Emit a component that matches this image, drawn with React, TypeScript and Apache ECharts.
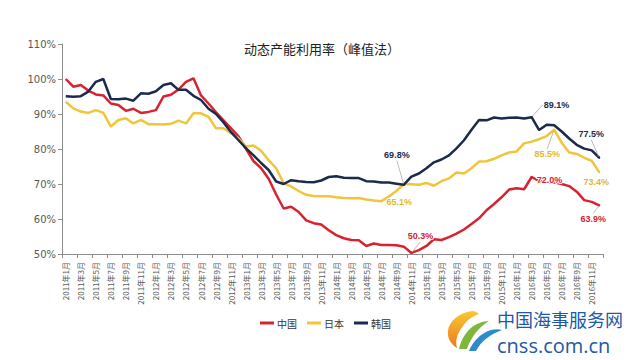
import React, { useEffect, useRef } from "react";
import * as echarts from "echarts";

const years = ["2011", "2012", "2013", "2014", "2015", "2016"];
const monthNums = [1, 2, 3, 4, 5, 6, 7, 8, 9, 10, 11, 12];
const categories = years.flatMap((y) => monthNums.map((m) => `${y}年${m}月`));

const seriesNames = ["中国", "日本", "韩国"];

const china = [
  100.0, 97.8, 98.3, 96.7, 95.6, 95.3, 93.0, 92.6, 90.9, 91.5, 90.3, 90.6,
  91.1, 95.0, 95.5, 97.0, 99.2, 100.2, 95.3, 93.0, 90.5, 88.2, 85.9, 83.6,
  80.0, 76.5, 74.5, 71.5, 67.0, 63.0, 63.5, 62.0, 59.6, 58.8, 58.4, 56.8,
  55.4, 54.5, 54.0, 53.9, 52.3, 53.0, 52.6, 52.6, 52.5, 52.1, 50.3, 51.1,
  52.3, 54.2, 54.0, 54.8, 55.8, 57.0, 58.6, 60.2, 62.5, 64.3, 66.2, 68.4,
  68.8, 68.5, 72.0, 70.9, 70.4, 70.5, 70.0, 69.4, 67.8, 65.4, 64.9, 63.9,
];

const japan = [
  93.5, 91.6, 90.7, 90.3, 91.1, 90.3, 86.4, 88.3, 88.8, 87.3, 88.3, 87.1,
  87.1, 87.0, 87.2, 88.1, 87.3, 90.2, 90.2, 89.2, 85.9, 85.9, 84.5, 83.0,
  80.7, 81.0, 79.5, 76.8, 74.5, 70.2, 69.3, 68.0, 66.9, 66.6, 66.5, 66.5,
  66.2, 66.0, 65.9, 66.0, 65.6, 65.3, 65.1, 66.4, 68.0, 70.0, 69.9, 69.8,
  70.3, 69.5, 70.8, 71.6, 73.3, 73.0, 74.5, 76.4, 76.5, 77.2, 78.2, 79.0,
  79.3, 81.6, 82.1, 82.8, 83.7, 85.5, 81.8, 79.0, 78.6, 77.5, 76.6, 73.4,
];

const korea = [
  95.1, 94.9, 95.1, 96.4, 99.2, 100.0, 94.3, 94.2, 94.4, 93.8, 95.9, 95.8,
  96.5, 98.3, 98.8, 96.9, 96.9, 95.2, 94.0, 91.5, 90.0, 87.6, 84.8, 82.5,
  80.2, 78.2, 76.0, 74.0, 70.7, 70.0, 71.1, 70.8, 70.6, 70.5, 71.0, 72.0,
  72.2, 71.8, 71.7, 71.7, 70.8, 70.7, 70.4, 70.4, 70.1, 69.8, 72.1, 73.0,
  74.5, 76.2, 77.0, 78.2, 80.2, 82.5, 85.5, 88.3, 88.2, 89.0, 88.7, 88.9,
  89.0, 88.7, 89.1, 85.4, 86.9, 86.8, 85.0, 83.0, 81.2, 80.1, 79.6, 77.5,
];

const yTicks = [50, 60, 70, 80, 90, 100, 110];

// annotated points: series index and data index
const annotations = [
  { s: 1, i: 42 },
  { s: 0, i: 46 },
  { s: 2, i: 45 },
  { s: 2, i: 62 },
  { s: 1, i: 65 },
  { s: 0, i: 62 },
  { s: 2, i: 71 },
  { s: 1, i: 71 },
  { s: 0, i: 71 },
];

// label offsets (style) keyed "s-i": [dx, dy, leader]
const labelOffsets: Record<string, [number, number, boolean]> = {
  "1-42": [18, 11, false],
  "0-46": [9, -6, true],
  "2-45": [-7, -19, true],
  "2-62": [25, -2, true],
  "1-65": [-7, 35, true],
  "0-62": [18, 13, false],
  "2-71": [-8, -13, true],
  "1-71": [-3, 20, false],
  "0-71": [-6, 24, true],
};

const colors = ["#D6232E", "#EFC53A", "#1B2A4E"];
const labelColors = ["#D6232E", "#E2B82E", "#1B2A4E"];

const swooshYellow =
  "M27 0 C14 2 4 10 3 20 C2 27 6 33 12 37 C10 30 12 22 18 15 C22 9 28 5 34 3 C32 1 30 0 27 0 Z";
const swooshGreen =
  "M14 38 C16 28 22 18 32 13 C36 11 40 10 44 10 C34 16 26 26 22 38 Z";
const swooshBlue =
  "M24 40 C28 30 36 22 46 19 C50 18 54 18 57 19 C46 23 36 30 31 40 Z";

echarts.graphic.registerShape("swooshY", echarts.graphic.extendPath(swooshYellow, {}) as any);
echarts.graphic.registerShape("swooshG", echarts.graphic.extendPath(swooshGreen, {}) as any);
echarts.graphic.registerShape("swooshB", echarts.graphic.extendPath(swooshBlue, {}) as any);

function buildSeriesData(values: number[], s: number) {
  return values.map((v, i) => {
    const ann = annotations.find((a) => a.s === s && a.i === i);
    if (!ann) return { value: v, symbol: "none" };
    const off = labelOffsets[`${s}-${i}`];
    return {
      value: v,
      symbol: "circle",
      symbolSize: 2,
      label: {
        show: true,
        position: "top",
        formatter: `${v.toFixed(1)}%`,
      },
      labelLine: {
        show: off[2],
        lineStyle: { color: "#A8A8A8", width: 0.8 },
      },
    };
  });
}

export default function App() {
  const ref = useRef<HTMLDivElement>(null);

  useEffect(() => {
    document.body.style.margin = "0";
    if (!ref.current) return;
    const chart = echarts.init(ref.current, null, { renderer: "svg" });
    const lists = [china, japan, korea];
    chart.setOption({
      animation: false,
      backgroundColor: "#ffffff",
      title: {
        text: "动态产能利用率（峰值法）",
        left: 317,
        top: 37,
        textAlign: "center",
        textStyle: {
          fontFamily: "Noto Sans CJK SC",
          fontSize: 13,
          fontWeight: "normal",
          color: "#222",
        },
      },
      grid: { left: 62, right: 37, top: 44, bottom: 106, containLabel: false },
      legend: {
        data: seriesNames,
        left: 255,
        top: 313,
        itemWidth: 14,
        itemHeight: 3,
        itemGap: 10,
        icon: "rect",
        textStyle: { fontSize: 10, color: "#333", fontFamily: "Noto Sans CJK SC", padding: [0, 0, 0, -2] },
      },
      xAxis: {
        type: "category",
        data: categories,
        boundaryGap: true,
        axisLine: { lineStyle: { color: "#8C8C8C", width: 1 } },
        axisTick: { show: true, interval: 1, length: 4, lineStyle: { color: "#8C8C8C" } },
        axisLabel: {
          interval: 1,
          rotate: 90,
          fontSize: 8,
          color: "#595959",
          fontFamily: "Noto Sans CJK SC",
          margin: 8,
        },
        splitLine: { show: false },
      },
      yAxis: {
        type: "value",
        min: yTicks[0],
        max: yTicks[yTicks.length - 1],
        interval: 10,
        axisLine: { show: true, lineStyle: { color: "#8C8C8C", width: 1 } },
        axisTick: { show: true, length: 4, lineStyle: { color: "#8C8C8C" } },
        axisLabel: {
          formatter: "{value}%",
          fontSize: 10,
          color: "#595959",
          fontFamily: "DejaVu Sans",
          margin: 6,
        },
        splitLine: { show: false },
      },
      series: lists.map((vals, s) => ({
        name: seriesNames[s],
        type: "line",
        data: buildSeriesData(vals, s),
        showSymbol: true,
        showAllSymbol: true,
        symbol: "none",
        lineStyle: { color: colors[s], width: 2.5 },
        itemStyle: { color: colors[s] },
        label: {
          show: false,
          color: labelColors[s],
          fontSize: 9,
          fontWeight: "bold",
          fontFamily: "Liberation Sans",
          textBorderColor: "rgba(255,255,255,0.95)",
          textBorderWidth: 2,
        },
        labelLayout: (params: any) => {
          const off = labelOffsets[`${s}-${params.dataIndex}`];
          if (!off) return {};
          return { dx: off[0], dy: off[1] };
        },
        z: 2 + s,
      })),
      graphic: [
        {
          type: "swooshY",
          x: 445,
          y: 311,
          style: {
            fill: new echarts.graphic.LinearGradient(0, 0, 0, 1, [
              { offset: 0, color: "#F7C930" },
              { offset: 1, color: "#EE7A1E" },
            ]),
          },
        },
        {
          type: "swooshG",
          x: 445,
          y: 311,
          style: { fill: "#7DB83A" },
        },
        {
          type: "swooshB",
          x: 445,
          y: 311,
          style: { fill: "#2E8BC9" },
        },
        {
          type: "text",
          x: 497,
          y: 319,
          style: {
            text: "中国海事服务网",
            fill: "#2058A8",
            font: "18px 'Noto Sans CJK SC'",
            verticalAlign: "middle",
          },
        },
        {
          type: "text",
          x: 497,
          y: 345,
          style: {
            text: "cnss.com.cn",
            fill: "#2058A8",
            font: "20px 'Open Sans'",
            verticalAlign: "middle",
          },
        },
      ],
    });
    return () => chart.dispose();
  }, []);

  return <div ref={ref} style={{ width: 640, height: 360 }} />;
}
